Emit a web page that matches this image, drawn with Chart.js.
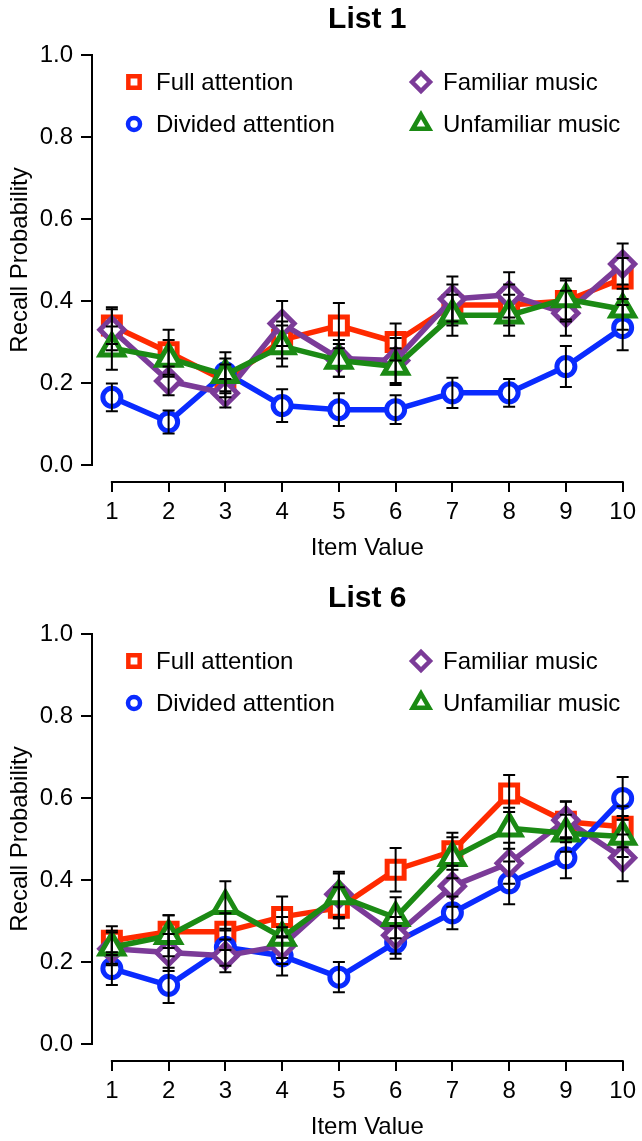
<!DOCTYPE html>
<html>
<head>
<meta charset="utf-8">
<title>Recall Probability by Item Value</title>
<script src="https://cdn.jsdelivr.net/npm/chart.js@4.4.1/dist/chart.umd.min.js"></script>
<style>
  html, body { margin: 0; padding: 0; background: #ffffff; }
  canvas { display: block; }
</style>
</head>
<body>
<canvas id="list1" width="642" height="579"></canvas>
<canvas id="list6" width="642" height="562"></canvas>
<script>
// ---- data ----
const itemValues = [1, 2, 3, 4, 5, 6, 7, 8, 9, 10];
const xTickLabels = ['1', '2', '3', '4', '5', '6', '7', '8', '9', '10'];
const yTickValues = [0, 0.2, 0.4, 0.6, 0.8, 1.0];
const yTickLabels = ['0.0', '0.2', '0.4', '0.6', '0.8', '1.0'];
const seriesNames = ['Full attention', 'Divided attention', 'Familiar music', 'Unfamiliar music'];

// List 1: mean recall probability and standard error per item value
const list1Full       = [0.340, 0.275, 0.205, 0.305, 0.340, 0.300, 0.390, 0.390, 0.400, 0.455];
const list1Divided    = [0.165, 0.105, 0.225, 0.145, 0.135, 0.135, 0.176, 0.176, 0.240, 0.335];
const list1Familiar   = [0.330, 0.205, 0.175, 0.345, 0.260, 0.255, 0.405, 0.415, 0.370, 0.490];
const list1Unfamiliar = [0.285, 0.260, 0.220, 0.290, 0.255, 0.240, 0.365, 0.365, 0.405, 0.380];
const list1FullSE       = [0.045, 0.055, 0.040, 0.045, 0.055, 0.045, 0.050, 0.050, 0.050, 0.050];
const list1DividedSE    = [0.034, 0.028, 0.050, 0.040, 0.040, 0.035, 0.037, 0.034, 0.050, 0.055];
const list1FamiliarSE   = [0.050, 0.035, 0.035, 0.055, 0.045, 0.055, 0.055, 0.055, 0.055, 0.050];
const list1UnfamiliarSE = [0.053, 0.045, 0.040, 0.050, 0.040, 0.045, 0.050, 0.050, 0.050, 0.050];

// List 6
const list6Full       = [0.252, 0.274, 0.274, 0.310, 0.332, 0.425, 0.470, 0.611, 0.542, 0.530];
const list6Divided    = [0.184, 0.143, 0.236, 0.215, 0.163, 0.248, 0.320, 0.393, 0.454, 0.599];
const list6Familiar   = [0.232, 0.223, 0.215, 0.240, 0.365, 0.265, 0.385, 0.441, 0.546, 0.454];
const list6Unfamiliar = [0.236, 0.264, 0.337, 0.260, 0.361, 0.308, 0.454, 0.526, 0.514, 0.506];
const list6FullSE       = [0.035, 0.040, 0.045, 0.050, 0.050, 0.053, 0.045, 0.045, 0.050, 0.050];
const list6DividedSE    = [0.040, 0.043, 0.045, 0.048, 0.037, 0.040, 0.040, 0.052, 0.050, 0.052];
const list6FamiliarSE   = [0.040, 0.045, 0.040, 0.045, 0.055, 0.045, 0.050, 0.050, 0.045, 0.057];
const list6UnfamiliarSE = [0.040, 0.050, 0.060, 0.050, 0.055, 0.050, 0.050, 0.050, 0.045, 0.050];

// ---- styling ----
const FONT = '"Liberation Sans", Arial, Helvetica, sans-serif';
const seriesColors = ['#ff2a00', '#0a2bff', '#7b3b98', '#1b8a14'];
const seriesShapes = ['rect', 'circle', 'rectRot', 'triangle'];
const plotRadius   = [12, 9, 12, 13.5];
const legendRadius = [8, 6, 9, 9.5];
const legendSlots  = [[134, 82], [134, 124], [421, 82], [421, 124]];

function markerFallback(ctx, shape, r, x, y) {
  ctx.beginPath();
  if (shape === 'circle') {
    ctx.arc(x, y, r, 0, Math.PI * 2);
  } else if (shape === 'rect') {
    const s = r * Math.SQRT1_2;
    ctx.rect(x - s, y - s, 2 * s, 2 * s);
  } else if (shape === 'rectRot') {
    ctx.moveTo(x, y - r); ctx.lineTo(x + r, y); ctx.lineTo(x, y + r); ctx.lineTo(x - r, y); ctx.closePath();
  } else {
    for (let k = 0; k < 3; k++) {
      const a = k * 2 * Math.PI / 3;
      const px = x + Math.sin(a) * r, py = y - Math.cos(a) * r;
      if (k === 0) ctx.moveTo(px, py); else ctx.lineTo(px, py);
    }
    ctx.closePath();
  }
  ctx.fill();
  ctx.stroke();
}

// Draws the detached axis lines, error bars, titles and the two-column key.
const framePlugin = {
  id: 'frame',
  afterDatasetsDraw(chart) {
    const ctx = chart.ctx;
    const xs = chart.scales.x, ys = chart.scales.y;
    ctx.save();
    ctx.strokeStyle = '#000';
    ctx.lineWidth = 2;
    ctx.lineCap = 'butt';
    chart.data.datasets.forEach(ds => {
      ds.data.forEach((pt, j) => {
        const e = ds.errors[j];
        const px = xs.getPixelForValue(pt.x);
        const top = ys.getPixelForValue(pt.y + e);
        const bot = ys.getPixelForValue(pt.y - e);
        ctx.beginPath();
        ctx.moveTo(px, top); ctx.lineTo(px, bot);
        ctx.moveTo(px - 6, top); ctx.lineTo(px + 6, top);
        ctx.moveTo(px - 6, bot); ctx.lineTo(px + 6, bot);
        ctx.stroke();
      });
    });
    ctx.restore();
  },
  afterDraw(chart, args, opts) {
    const ctx = chart.ctx;
    const xs = chart.scales.x, ys = chart.scales.y;
    const area = chart.chartArea;
    ctx.save();
    // axis lines span first to last tick only
    ctx.strokeStyle = '#000';
    ctx.lineWidth = 2;
    ctx.lineCap = 'square';
    ctx.beginPath();
    ctx.moveTo(xs.getPixelForValue(itemValues[0]), area.bottom);
    ctx.lineTo(xs.getPixelForValue(itemValues[itemValues.length - 1]), area.bottom);
    ctx.moveTo(area.left, ys.getPixelForValue(yTickValues[0]));
    ctx.lineTo(area.left, ys.getPixelForValue(yTickValues[yTickValues.length - 1]));
    ctx.stroke();

    const cx = xs.getPixelForValue(5.5);
    ctx.fillStyle = '#000';
    ctx.textAlign = 'center';
    ctx.textBaseline = 'middle';
    ctx.font = 'bold 30px ' + FONT;
    ctx.fillText(opts.title, cx, 20);
    ctx.font = '24px ' + FONT;
    ctx.fillText('Item Value', cx, 548);
    ctx.save();
    ctx.translate(20, ys.getPixelForValue(0.5));
    ctx.rotate(-Math.PI / 2);
    ctx.fillText('Recall Probability', 0, 0);
    ctx.restore();

    // key
    ctx.textAlign = 'left';
    ctx.font = '24px ' + FONT;
    chart.data.datasets.forEach((ds, i) => {
      const [lx, ly] = legendSlots[i];
      ctx.fillStyle = '#ffffff';
      ctx.strokeStyle = seriesColors[i];
      ctx.lineWidth = 4.5;
      ctx.lineJoin = 'miter';
      if (Chart.helpers && Chart.helpers.drawPoint) {
        Chart.helpers.drawPoint(ctx, { pointStyle: seriesShapes[i], radius: legendRadius[i], borderWidth: 4.5, rotation: 0 }, lx, ly);
      } else {
        markerFallback(ctx, seriesShapes[i], legendRadius[i], lx, ly);
      }
      ctx.fillStyle = '#000';
      ctx.fillText(ds.label, lx + 22, ly + 1);
    });
    ctx.restore();
  }
};

function buildChart(id, title, values, errors) {
  const canvas = document.getElementById(id);
  const H = canvas.height;
  const datasets = seriesNames.map((name, i) => ({
    label: name,
    data: itemValues.map((x, j) => ({ x: x, y: values[i][j] })),
    errors: errors[i],
    borderColor: seriesColors[i],
    backgroundColor: '#ffffff',
    pointBackgroundColor: '#ffffff',
    pointBorderColor: seriesColors[i],
    pointStyle: seriesShapes[i],
    pointRadius: plotRadius[i],
    pointBorderWidth: 5,
    borderWidth: 5.5,
    borderJoinStyle: 'round',
    tension: 0,
    clip: false,
    order: seriesNames.length - i
  }));
  return new Chart(canvas, {
    type: 'line',
    data: { datasets: datasets },
    options: {
      responsive: false,
      animation: false,
      devicePixelRatio: 1,
      events: [],
      layout: { padding: { top: 55, right: 15, bottom: 0, left: 0 } },
      plugins: {
        legend: { display: false },
        tooltip: { enabled: false },
        title: { display: false },
        frame: { title: title }
      },
      scales: {
        x: {
          type: 'linear',
          position: 'bottom',
          min: 0.65,
          max: 10,
          afterBuildTicks: s => { s.ticks = itemValues.map(v => ({ value: v })); },
          afterFit: s => { s.height = H - 482; },
          border: { display: false },
          grid: { display: true, drawOnChartArea: false, drawTicks: true, tickLength: 10, lineWidth: 2, color: '#000' },
          ticks: {
            autoSkip: false, maxRotation: 0, minRotation: 0, padding: 6, color: '#000',
            font: { family: FONT, size: 24 },
            callback: (v, idx) => xTickLabels[idx]
          }
        },
        y: {
          type: 'linear',
          position: 'left',
          min: -0.0415,
          max: 1,
          afterBuildTicks: s => { s.ticks = yTickValues.map(v => ({ value: v })); },
          afterFit: s => { s.width = 92; },
          border: { display: false },
          grid: { display: true, drawOnChartArea: false, drawTicks: true, tickLength: 11, lineWidth: 2, color: '#000' },
          ticks: {
            autoSkip: false, padding: 8, color: '#000',
            font: { family: FONT, size: 24 },
            callback: (v, idx) => yTickLabels[idx]
          }
        }
      }
    },
    plugins: [framePlugin]
  });
}

buildChart('list1', 'List 1',
  [list1Full, list1Divided, list1Familiar, list1Unfamiliar],
  [list1FullSE, list1DividedSE, list1FamiliarSE, list1UnfamiliarSE]);
buildChart('list6', 'List 6',
  [list6Full, list6Divided, list6Familiar, list6Unfamiliar],
  [list6FullSE, list6DividedSE, list6FamiliarSE, list6UnfamiliarSE]);
</script>
</body>
</html>
